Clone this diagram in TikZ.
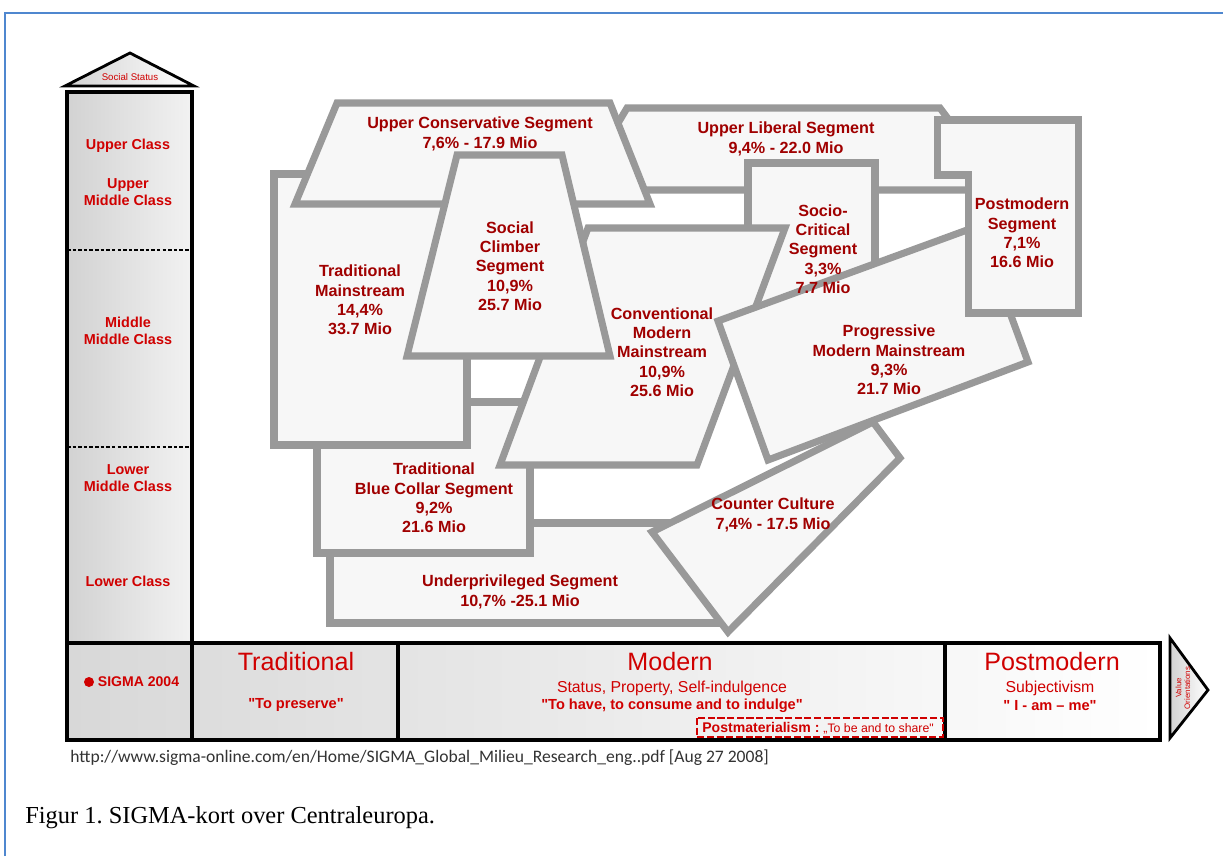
\documentclass[tikz,border=0pt]{standalone}
\usepackage{fontspec}
\setmainfont{Liberation Sans}
\newfontfamily\urlfont{Carlito}
\newfontfamily\capfont{Liberation Serif}
\usepackage{tikz}
\usetikzlibrary{calc}
\definecolor{SegFill}{HTML}{F7F7F7}
\definecolor{SegLine}{HTML}{999999}
\definecolor{SegText}{HTML}{A00000}
\definecolor{Scarlet}{HTML}{D00000}
\definecolor{FrameBlue}{HTML}{4F87CF}
\definecolor{BarGray}{HTML}{D8D8D8}
\definecolor{ColGray}{HTML}{D2D2D2}
\definecolor{ColLight}{HTML}{F2F2F2}
\frenchspacing

\begin{document}
\begin{tikzpicture}[x=0.02cm, y=-0.02cm,
  seg/.style={fill=SegFill, draw=SegLine, line width=4pt, line join=miter},
  seglabel/.style={font=\fontsize{9.2}{11}\selectfont\bfseries, text=SegText, align=center, inner sep=0pt},
  classlabel/.style={font=\fontsize{8.2}{9.6}\selectfont\bfseries, text=Scarlet, align=center, inner sep=0pt},
  bigword/.style={font=\fontsize{14.3}{16}\selectfont, text=Scarlet, inner sep=0pt},
  motto/.style={font=\fontsize{8.3}{10}\selectfont\bfseries, text=Scarlet, inner sep=0pt},
  subline/.style={font=\fontsize{9}{10}\selectfont, text=Scarlet, inner sep=0pt}]
  \useasboundingbox (0,0) rectangle (1223,856);
  \fill[white] (0,0) rectangle (1223,856);
  \draw[FrameBlue, line width=1.3pt] (5,856) -- (5,13) -- (1223,13);

  % social status column
  \draw[line width=1.6pt, left color=ColGray, right color=white] (65,86) -- (130,53) -- (194,86) -- cycle;
  \node[font=\fontsize{5.5}{6}\selectfont, text=Scarlet, inner sep=0pt] (status) at (130,77) {Social Status};
  \draw[line width=2pt, left color=ColGray, right color=ColLight] (67,92) rectangle (192,643);
  \draw[line width=1.4pt, dash pattern=on 2pt off 1.2pt] (67,250) -- (192,250);
  \draw[line width=1.4pt, dash pattern=on 2pt off 1.2pt] (67,447) -- (192,447);
  \node[classlabel] (upper) at (128,146) {Upper Class};
  \node[classlabel] (uppermid) at (128,192.5) {Upper\\Middle Class};
  \node[classlabel] (midmid) at (128,330.5) {Middle\\Middle Class};
  \node[classlabel] (lowermid) at (128,478) {Lower\\Middle Class};
  \node[classlabel] (lower) at (128,581) {Lower Class};

  % segments, back to front
  \draw[seg] (330,523) rectangle (728,623);
  \draw[seg] (317,402) rectangle (530,553);
  \draw[seg] (274,174) rectangle (467,445);
  \draw[seg] (627,108) -- (940,108) -- (952,124) -- (990,124) -- (990,190) -- (602,190) -- (602,150) -- cycle;
  \draw[seg] (337,103) -- (610,103) -- (650,204) -- (295,204) -- cycle;
  \draw[seg] (748,163) rectangle (875,320);
  \draw[seg] (588,228) -- (785,228) -- (697,465) -- (500,465) -- cycle;
  \draw[seg] (457,155) -- (562,155) -- (610,356) -- (407,356) -- cycle;
  \draw[seg] (718,321) -- (978,226) -- (1028,362) -- (768,460) -- cycle;
  \draw[seg] (937,120) -- (1078,120) -- (1078,313) -- (968,313) -- (968,175) -- (937,175) -- cycle;
  \draw[seg] (652,532) -- (873,422) -- (900,458) -- (728,632) -- cycle;

  \node[seglabel] (upcon) at (480,134) {Upper Conservative Segment\\7,6\% - 17.9 Mio};
  \node[seglabel] (uplib) at (786,139) {Upper Liberal Segment\\9,4\% - 22.0 Mio};
  \node[seglabel] (tradmain) at (360,300) {Traditional\\Mainstream\\14,4\%\\33.7 Mio};
  \node[seglabel] (climber) at (510,266) {Social\\Climber\\Segment\\10,9\%\\25.7 Mio};
  \node[seglabel] (critical) at (823,249) {Socio-\\Critical\\Segment\\3,3\%\\7.7 Mio};
  \node[seglabel] (postseg) at (1022,233) {Postmodern\\Segment\\7,1\%\\16.6 Mio};
  \node[seglabel] (convmain) at (662,352) {Conventional\\Modern\\Mainstream\\10,9\%\\25.6 Mio};
  \node[seglabel] (progmain) at (889,360) {Progressive\\Modern Mainstream\\9,3\%\\21.7 Mio};
  \node[seglabel] (bluecol) at (434,498) {Traditional\\Blue Collar Segment\\9,2\%\\21.6 Mio};
  \node[seglabel] (counter) at (773,515) {Counter Culture\\7,4\% - 17.5 Mio};
  \node[seglabel] (underpriv) at (520,592) {Underprivileged Segment\\10,7\% -25.1 Mio};

  % value orientation bar
  \draw[line width=2pt, left color=BarGray, right color=white] (67,643) rectangle (1160,740);
  \draw[line width=2pt] (192,643) -- (192,740);
  \draw[line width=2pt] (398,643) -- (398,740);
  \draw[line width=2pt] (945,643) -- (945,740);
  \draw[line width=1.6pt, left color=ColGray, right color=white] (1170,638) -- (1208,690) -- (1170,738) -- cycle;
  \node[font=\fontsize{4.5}{5}\selectfont, text=Scarlet, align=center, inner sep=0pt, rotate=90] (valor) at (1183,688) {Value\\Orientations};

  \fill[Scarlet] (89,682) circle[radius=5];
  \node[font=\fontsize{8}{9}\selectfont\bfseries, text=Scarlet, inner sep=0pt] (sigma) at (138.5,682) {SIGMA 2004};
  \node[bigword] (trad) at (296,662) {Traditional};
  \node[motto] (preserve) at (296,705) {\textquotedbl To preserve\textquotedbl};
  \node[bigword] (modern) at (670,662) {Modern};
  \node[subline] (status2) at (672,688) {Status, Property, Self-indulgence};
  \node[motto] (consume) at (672,706) {\textquotedbl To have, to consume and to indulge\textquotedbl};
  \draw[Scarlet, line width=1.5pt, dash pattern=on 4pt off 1.5pt] (697,718) rectangle (943,737);
  \node[anchor=west, text=Scarlet, inner sep=0pt] (postmat) at (702,728)
    {\fontsize{8}{9}\selectfont\bfseries Postmaterialism :\ \fontsize{7}{8}\selectfont\mdseries „To be and to share\textquotedbl};
  \node[bigword] (postmod) at (1052,662) {Postmodern};
  \node[subline] (subj) at (1050,688) {Subjectivism};
  \node[motto] (iamme) at (1050,706) {\textquotedbl{} I - am – me\textquotedbl};

  % source and caption
  \node[anchor=west, font=\urlfont\fontsize{10}{11}\selectfont, text=black!80, inner sep=0pt] (source) at (70,758)
    {http://www.sigma-online.com/en/Home/SIGMA\_Global\_Milieu\_Research\_eng..pdf [Aug 27 2008]};
  \node[anchor=west, font=\capfont\fontsize{13.9}{15}\selectfont, inner sep=0pt] (caption) at (25,818)
    {Figur 1. SIGMA-kort over Centraleuropa.};
\end{tikzpicture}
\end{document}
